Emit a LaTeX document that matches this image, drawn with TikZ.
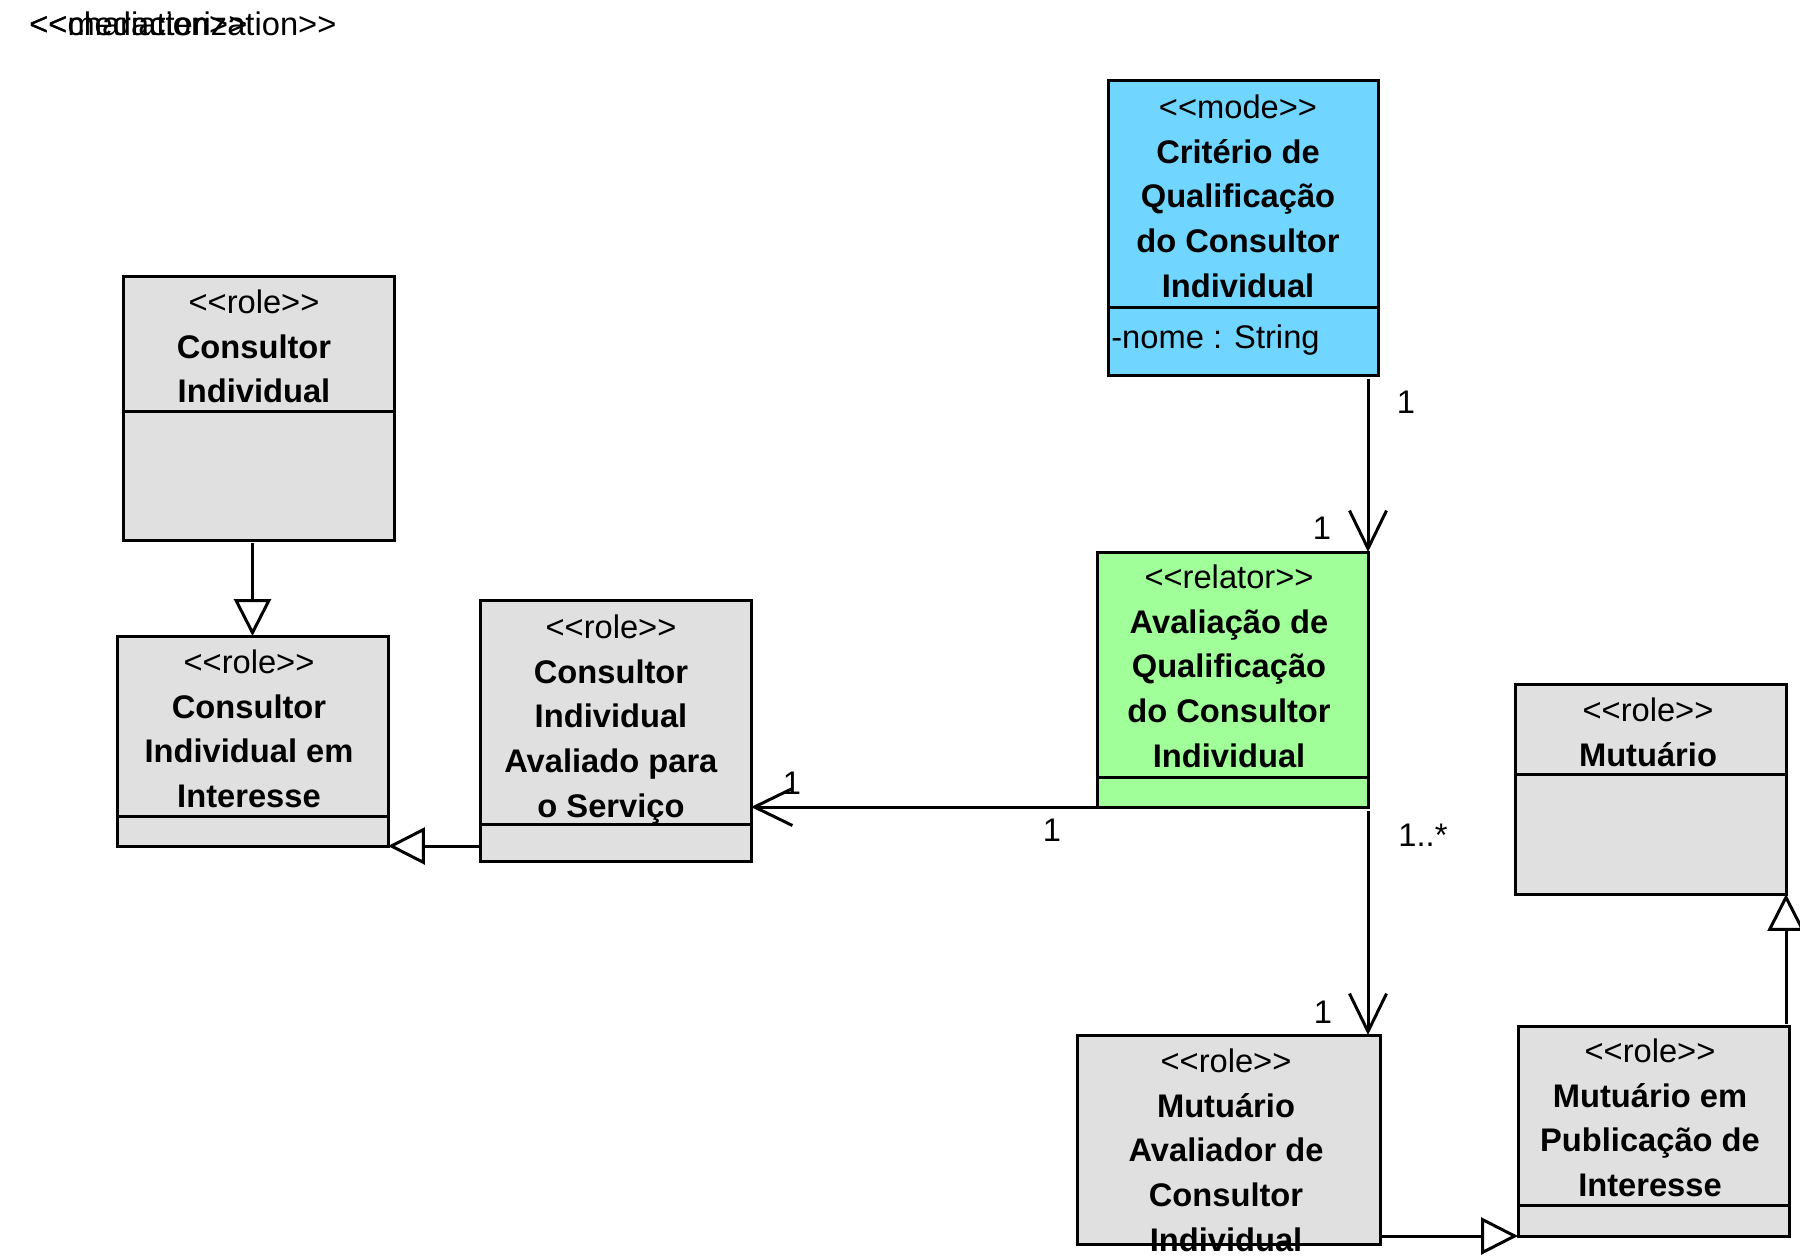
\documentclass[tikz,border=0pt]{standalone}
\usepackage{fontspec}
\setmainfont{Liberation Sans}
\usetikzlibrary{arrows.meta,fit}
\definecolor{rolegray}{RGB}{224,224,224}
\definecolor{modeblue}{RGB}{112,214,255}
\definecolor{relatorgreen}{RGB}{160,255,152}
\newcommand\umlfont{\fontsize{18.6}{25.6}\selectfont}
\newcommand\sttype[1]{<\kern0pt<#1>\kern0pt>}
\tikzset{
	classbox/.style={draw=black,line width=0.06cm,inner sep=0pt,outer sep=0pt},
	divider/.style={line width=0.06cm},
	title/.style={anchor=north,align=center,inner sep=0pt,font=\umlfont},
	attr/.style={anchor=base west,inner sep=0pt,font=\umlfont},
	mult/.style={inner sep=0pt,font=\umlfont},
	assoc/.style={-{Straight Barb[length=0.76cm,width=0.74cm,line width=0.06cm]},line width=0.06cm},
	gen/.style={-{Triangle[open,length=0.74cm,width=0.74cm,line width=0.06cm]},line width=0.06cm},
}
\begin{document}
\begin{tikzpicture}[x=0.02cm,y=-0.02cm]
	\useasboundingbox[fill=white] (0,0) rectangle (1800,1257);
	
	% stacked stereotype labels
	\node[attr] (charlabel) at (29,36) {\sttype{characterization}};
	\node[attr] (medlabel) at (29,36) {\sttype{mediation}};
	
	% classes
	\node[classbox,fill=rolegray,fit={(123,276)(394,540)}] (consultor) {};
	\draw[divider] (consultor.west |- 0,411) -- (consultor.east |- 0,411);
	\node[title] (consultor-txt) at (254,289)
	{\sttype{role}\\\textbf{Consultor}\\\textbf{Individual}};
	
	\node[classbox,fill=rolegray,fit={(117,636)(388,846)}] (interesse) {};
	\draw[divider] (interesse.west |- 0,816) -- (interesse.east |- 0,816);
	\node[title] (interesse-txt) at (249,649)
	{\sttype{role}\\\textbf{Consultor}\\\textbf{Individual em}\\\textbf{Interesse}};
	
	\node[classbox,fill=rolegray,fit={(480,600)(751,861)}] (avaliado) {};
	\draw[divider] (avaliado.west |- 0,824) -- (avaliado.east |- 0,824);
	\node[title] (avaliado-txt) at (611,614)
	{\sttype{role}\\\textbf{Consultor}\\\textbf{Individual}\\\textbf{Avaliado para}\\\textbf{o Serviço}};
	
	\node[classbox,fill=modeblue,fit={(1108,81)(1378,375)}] (criterio) {};
	\draw[divider] (criterio.west |- 0,307) -- (criterio.east |- 0,307);
	\node[title] (criterio-txt) at (1238,94)
	{\sttype{mode}\\\textbf{Critério de}\\\textbf{Qualificação}\\\textbf{do Consultor}\\\textbf{Individual}};
	\node[attr] (criterio-nome) at (1111,348) {-nome : String};
	
	\node[classbox,fill=relatorgreen,fit={(1097,552)(1368,807)}] (avaliacao) {};
	\draw[divider] (avaliacao.west |- 0,777) -- (avaliacao.east |- 0,777);
	\node[title] (avaliacao-txt) at (1229,564)
	{\sttype{relator}\\\textbf{Avaliação de}\\\textbf{Qualificação}\\\textbf{do Consultor}\\\textbf{Individual}};
	
	\node[classbox,fill=rolegray,fit={(1515,684)(1786,894)}] (mutuario) {};
	\draw[divider] (mutuario.west |- 0,774) -- (mutuario.east |- 0,774);
	\node[title] (mutuario-txt) at (1648,697)
	{\sttype{role}\\\textbf{Mutuário}};
	
	\node[classbox,fill=rolegray,fit={(1077,1035)(1380,1244)}] (mutavaliador) {};
	\node[title] (mutavaliador-txt) at (1226,1048)
	{\sttype{role}\\\textbf{Mutuário}\\\textbf{Avaliador de}\\\textbf{Consultor}\\\textbf{Individual}};
	
	\node[classbox,fill=rolegray,fit={(1518,1026)(1789,1236)}] (publicacao) {};
	\draw[divider] (publicacao.west |- 0,1205) -- (publicacao.east |- 0,1205);
	\node[title] (publicacao-txt) at (1650,1038)
	{\sttype{role}\\\textbf{Mutuário em}\\\textbf{Publicação de}\\\textbf{Interesse}};
	
	% associations
	\draw[assoc] (avaliacao.north east |- 0,379) -- (avaliacao.north east);
	\node[mult] (m-criterio) at (1406,402) {1};
	\node[mult] (m-avaliacao-top) at (1322,528) {1};
	
	\draw[assoc] (avaliacao.south west) -- (avaliado.east |- avaliacao.south west);
	\node[mult] (m-avaliado) at (792,783) {1};
	\node[mult] (m-avaliacao-left) at (1052,830) {1};
	
	\draw[assoc] (avaliacao.south east |- 0,811) -- (avaliacao.south east |- mutavaliador.north);
	\node[mult] (m-avaliacao-bottom) at (1423,835) {1..*};
	\node[mult] (m-mutavaliador) at (1323,1012) {1};
	
	% generalizations
	\draw[gen] (interesse.north |- 0,543) -- (interesse.north);
	\draw[gen] (avaliado.west |- interesse.south east) -- (interesse.south east);
	\draw[gen] (mutavaliador.east |- publicacao.south west) -- (publicacao.south west);
	\draw[gen] (mutuario.south east |- 0,1024) -- (mutuario.south east);
\end{tikzpicture}
\end{document}
